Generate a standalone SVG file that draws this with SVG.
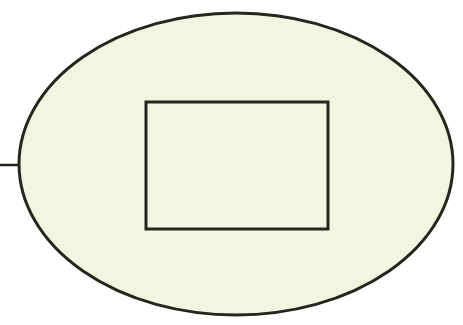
<svg xmlns="http://www.w3.org/2000/svg" width="463" height="325" viewBox="0 0 463 325">
<style>
.shape{fill:#f2f5e0;stroke:#26261e;stroke-width:3}
.conn{stroke:#26261e;stroke-width:2.5;fill:none}
</style>
<rect width="463" height="325" fill="#ffffff"/>
<g id="connectors">
<line class="conn" x1="0" y1="165" x2="19" y2="165"/>
</g>
<g id="ellipse">
<ellipse class="shape" cx="236" cy="164" rx="217" ry="151"/>
</g>
<g id="box">
<rect class="shape" x="146" y="102" width="182" height="127" stroke-width="3.5"/>
</g>
</svg>
